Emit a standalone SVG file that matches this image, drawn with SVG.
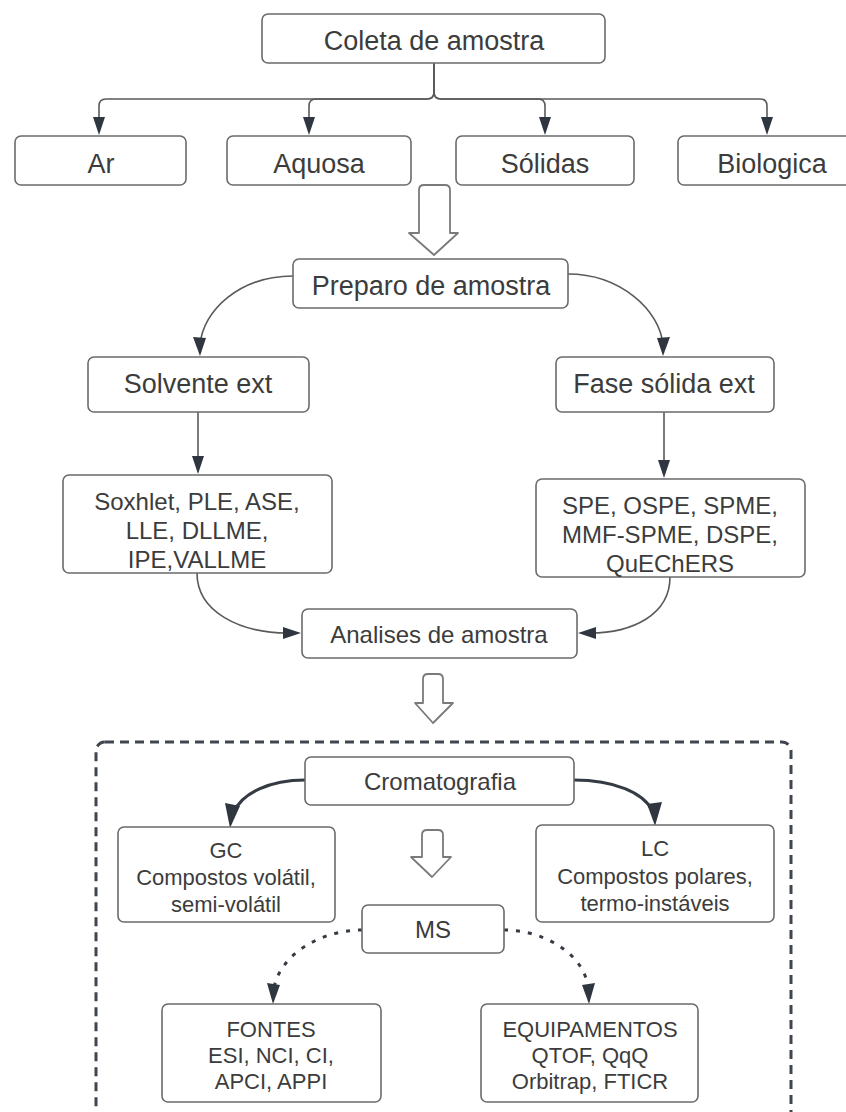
<svg xmlns="http://www.w3.org/2000/svg" width="846" height="1112" viewBox="0 0 846 1112">
<style>
.box{fill:#fff;stroke:#6b6b6b;stroke-width:1.6}
.t{font-family:"Liberation Sans",Arial,sans-serif;fill:#3c3c3c;text-anchor:middle}
.l{font-size:27px}
.m{font-size:24px}
.s{font-size:22px}
.c{fill:none;stroke:#5a5a5a;stroke-width:1.6}
.thick{fill:none;stroke:#343b44;stroke-width:3.2}
.dot{fill:none;stroke:#343b44;stroke-width:3;stroke-dasharray:4 8}
.hollow{fill:#fff;stroke:#7a7a7a;stroke-width:1.8;stroke-linejoin:round}
</style>

<g id="connectors">
<path class="c" d="M434,63 V92 Q434,99 427,99 H106 Q99,99 99,106 V120"/>
<path class="c" d="M434,63 V92 Q434,99 427,99 H316 Q309,99 309,106 V120"/>
<path class="c" d="M434,63 V92 Q434,99 441,99 H538 Q545,99 545,106 V120"/>
<path class="c" d="M434,63 V92 Q434,99 441,99 H760 Q767,99 767,106 V120"/>
<path class="c" d="M293,276 C240,276 203,310 200,345"/>
<path class="c" d="M568,274 C620,274 660,310 663,345"/>
<path class="c" d="M198,412 V460"/>
<path class="c" d="M664,412 V464"/>
<path class="c" d="M197,573 C197,612 240,633 288,633"/>
<path class="c" d="M670,577 C670,615 632,633 590,633"/>
<path class="thick" d="M305,780 C270,780 242,793 234,812"/>
<path class="thick" d="M574,780 C615,780 643,793 652,810"/>
<path class="dot" d="M362,930 C320,930 280,955 274,988"/>
<path class="dot" d="M504,930 C545,930 585,955 588,988"/>
<g id="arrowheads" fill="#2f3640">
<path d="M93,117 L105,117 L99,135 Z"/>
<path d="M303,117 L315,117 L309,135 Z"/>
<path d="M539,117 L551,117 L545,135 Z"/>
<path d="M761,117 L773,117 L767,135 Z"/>
<path d="M193,337 L206,338 L200,356 Z"/>
<path d="M657,338 L670,337 L663,356 Z"/>
<path d="M192,456 L204,456 L198,474 Z"/>
<path d="M658,460 L670,460 L664,478 Z"/>
<path d="M283,627 L283,639 L301,633 Z"/>
<path d="M596,627 L596,639 L578,633 Z"/>
<path d="M225,803 L240,806 L230,828 Z"/>
<path d="M647,804 L662,802 L655,826 Z"/>
<path d="M267,983 L280,985 L273,1004 Z"/>
<path d="M582,985 L595,983 L589,1004 Z"/>
</g>
</g>

<g id="container">
<rect x="96" y="742" width="695" height="420" rx="9" fill="none" stroke="#3f464f" stroke-width="3" stroke-dasharray="9 6"/>
</g>

<g id="hollow-arrows">
<path class="hollow" d="M419,190 Q419,185 424,185 H445 Q450,185 450,190 V233 H458 L434,255 L409,233 H419 Z"/>
<path class="hollow" d="M423,679 Q423,674 428,674 H438 Q443,674 443,679 V703 H453 L433,723 L415,703 H423 Z"/>
<path class="hollow" d="M422,835 Q422,830 427,830 H438 Q443,830 443,835 V857 H451 L432,877 L411,857 H422 Z"/>
</g>

<g id="n-coleta"><rect class="box" x="262" y="14" width="343" height="49" rx="6"/><text class="t l" x="434" y="50">Coleta de amostra</text></g>
<g id="n-ar"><rect class="box" x="15" y="136" width="171" height="49" rx="6"/><text class="t l" x="101" y="173">Ar</text></g>
<g id="n-aquosa"><rect class="box" x="227" y="136" width="184" height="49" rx="6"/><text class="t l" x="319" y="173">Aquosa</text></g>
<g id="n-solidas"><rect class="box" x="456" y="136" width="178" height="49" rx="6"/><text class="t l" x="545" y="173">Sólidas</text></g>
<g id="n-biologica"><rect class="box" x="678" y="136" width="180" height="49" rx="6"/><text class="t l" x="772" y="173">Biologica</text></g>
<g id="n-preparo"><rect class="box" x="293" y="259" width="275" height="49" rx="6"/><text class="t l" x="431" y="295">Preparo de amostra</text></g>
<g id="n-solvente"><rect class="box" x="88" y="357" width="221" height="55" rx="6"/><text class="t l" x="198" y="393">Solvente ext</text></g>
<g id="n-fase"><rect class="box" x="556" y="357" width="218" height="55" rx="6"/><text class="t l" x="664" y="393">Fase sólida ext</text></g>
<g id="n-soxhlet"><rect class="box" x="63" y="475" width="269" height="98" rx="6"/>
<text class="t m" x="197" y="510">Soxhlet, PLE, ASE,</text>
<text class="t m" x="197" y="539">LLE, DLLME,</text>
<text class="t m" x="197" y="568">IPE,VALLME</text></g>
<g id="n-spe"><rect class="box" x="536" y="479" width="269" height="98" rx="6"/>
<text class="t m" x="670" y="514">SPE, OSPE, SPME,</text>
<text class="t m" x="670" y="543">MMF-SPME, DSPE,</text>
<text class="t m" x="670" y="572">QuEChERS</text></g>
<g id="n-analises"><rect class="box" x="302" y="609" width="275" height="49" rx="6"/><text class="t m" x="439" y="643">Analises de amostra</text></g>
<g id="n-cromatografia"><rect class="box" x="305" y="757" width="269" height="48" rx="6"/><text class="t m" x="440" y="790">Cromatografia</text></g>
<g id="n-gc"><rect class="box" x="118" y="827" width="217" height="95" rx="6"/>
<text class="t s" x="226" y="858">GC</text>
<text class="t s" x="226" y="885">Compostos volátil,</text>
<text class="t s" x="226" y="912">semi-volátil</text></g>
<g id="n-lc"><rect class="box" x="536" y="825" width="238" height="97" rx="6"/>
<text class="t s" x="655" y="856">LC</text>
<text class="t s" x="655" y="884">Compostos polares,</text>
<text class="t s" x="655" y="911">termo-instáveis</text></g>
<g id="n-ms"><rect class="box" x="362" y="905" width="142" height="48" rx="6"/><text class="t m" x="433" y="938">MS</text></g>
<g id="n-fontes"><rect class="box" x="162" y="1004" width="219" height="98" rx="6"/>
<text class="t s" x="271" y="1037">FONTES</text>
<text class="t s" x="271" y="1063">ESI, NCI, CI,</text>
<text class="t s" x="271" y="1089">APCI, APPI</text></g>
<g id="n-equip"><rect class="box" x="481" y="1004" width="217" height="98" rx="6"/>
<text class="t s" x="590" y="1037">EQUIPAMENTOS</text>
<text class="t s" x="590" y="1063">QTOF, QqQ</text>
<text class="t s" x="590" y="1089">Orbitrap, FTICR</text></g>
</svg>
